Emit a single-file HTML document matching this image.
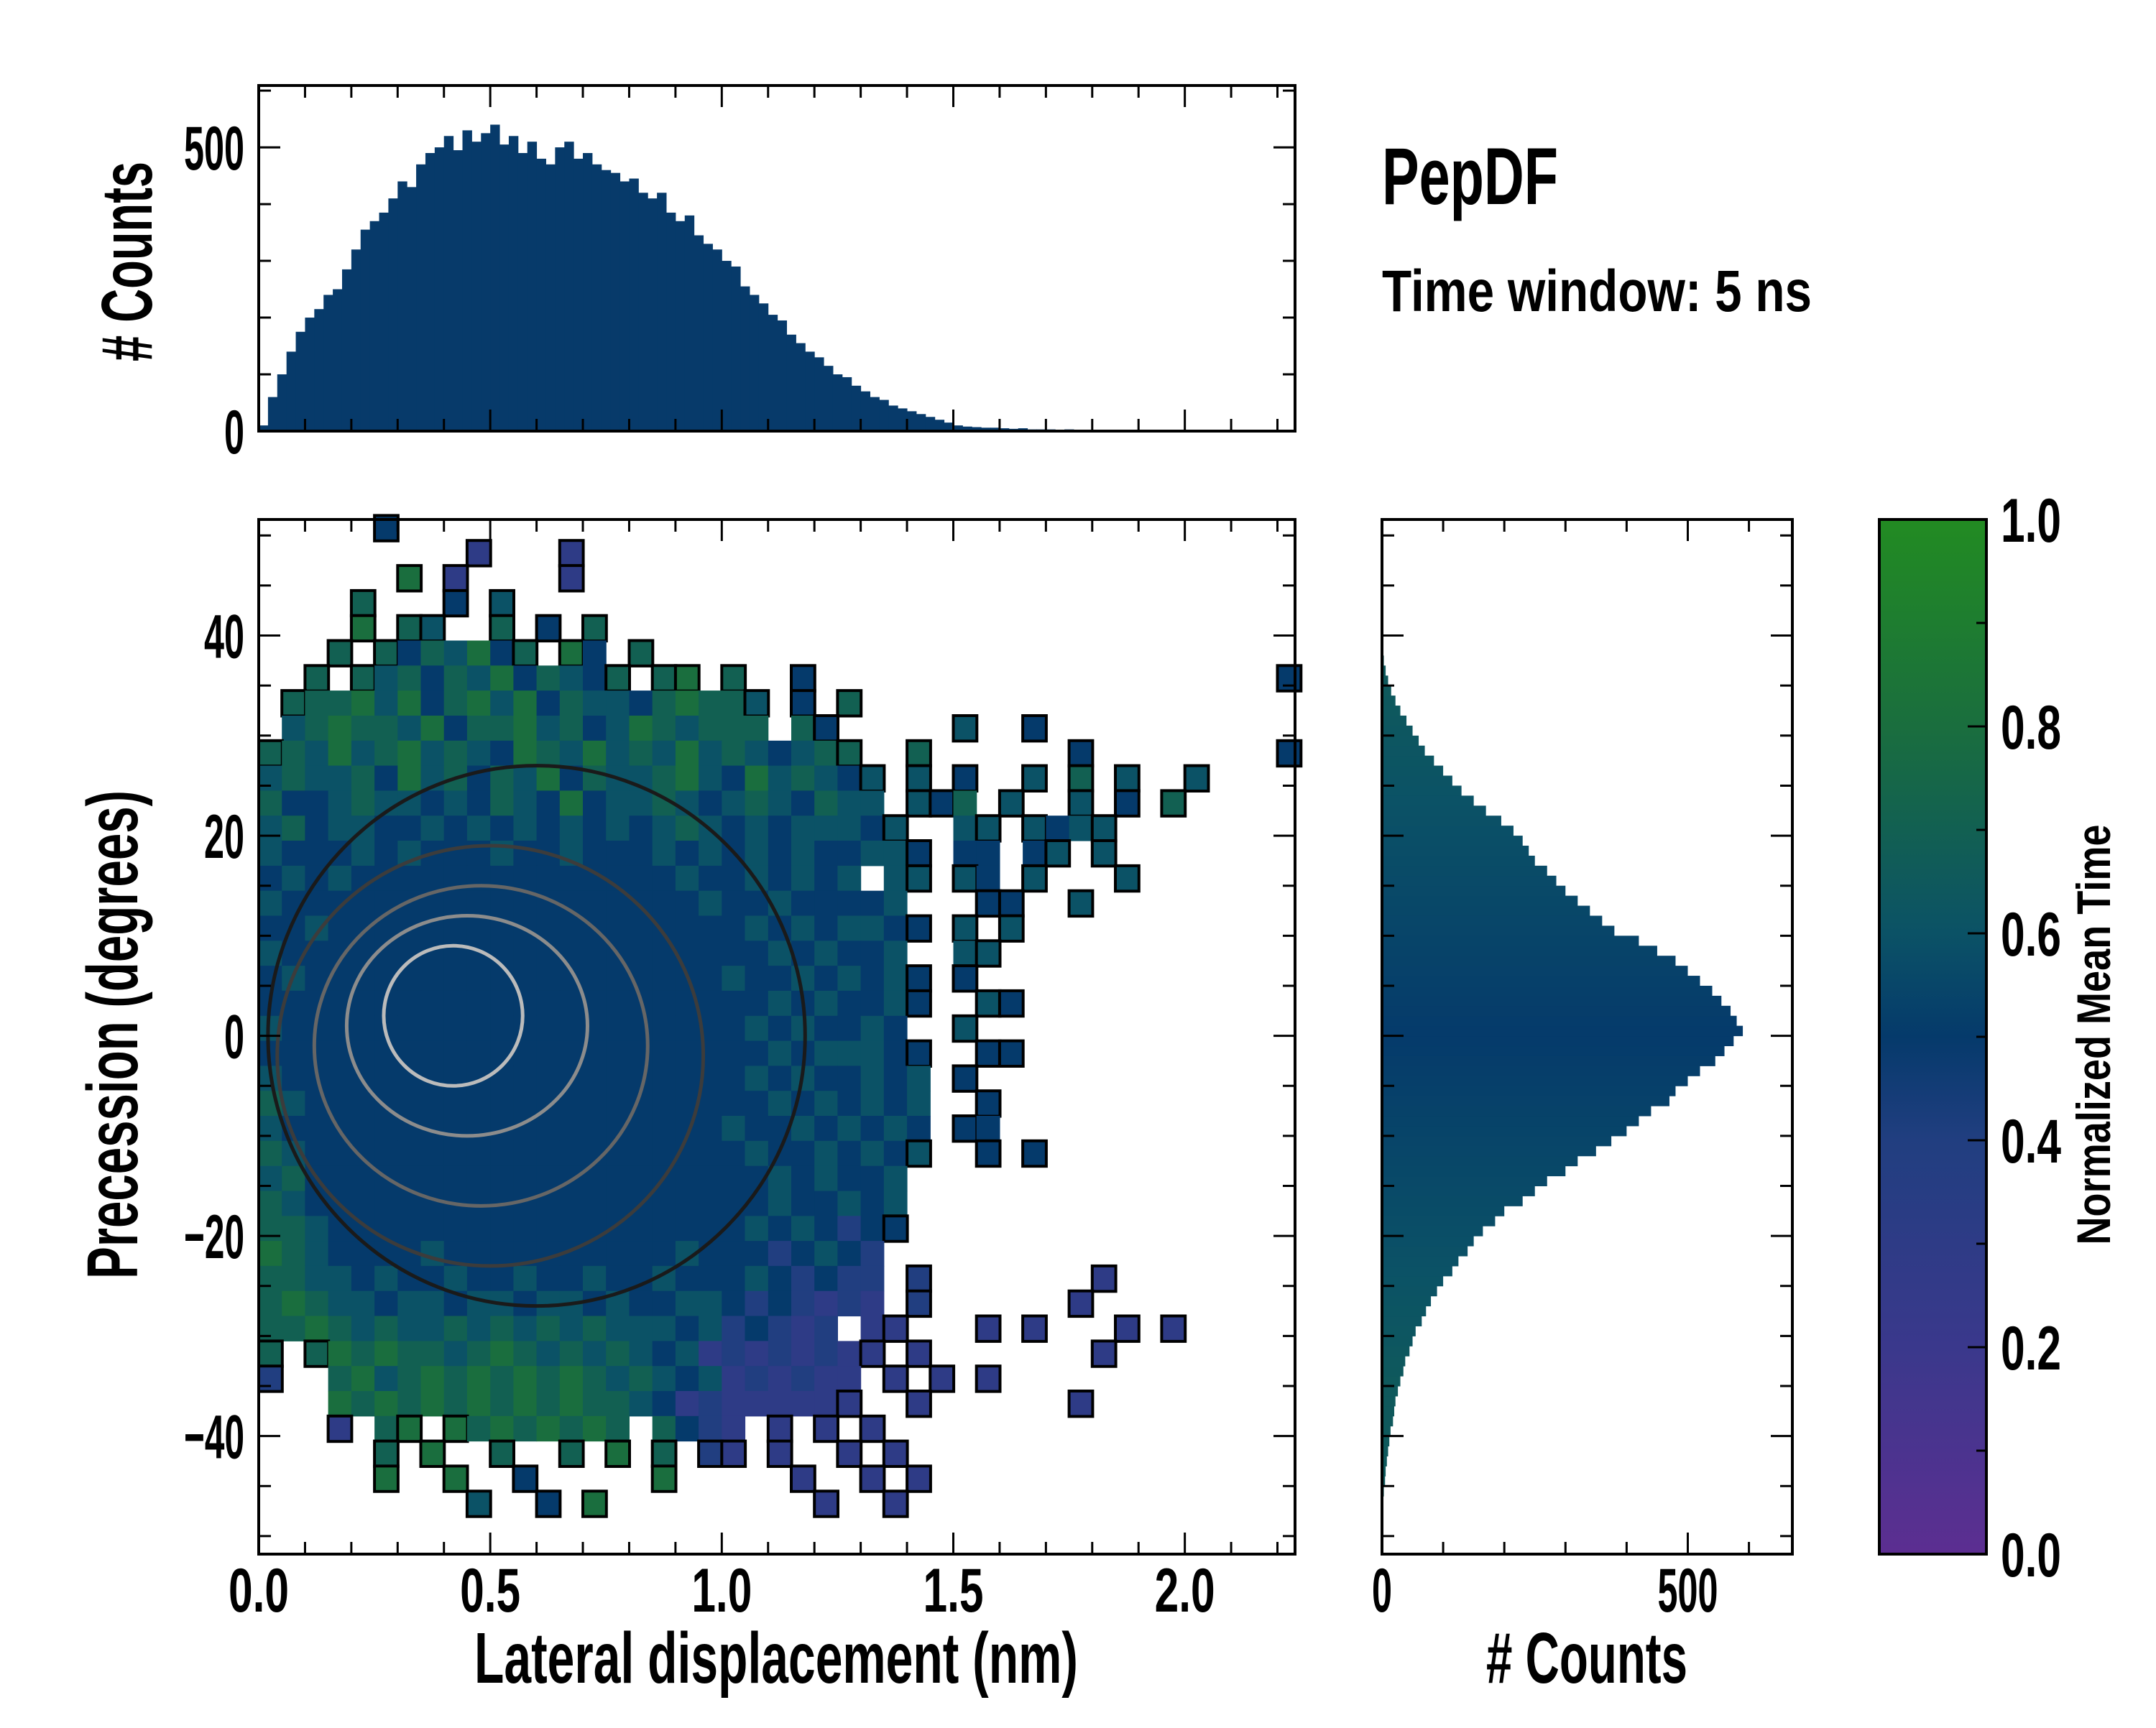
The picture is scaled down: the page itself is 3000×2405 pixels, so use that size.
<!DOCTYPE html>
<html><head><meta charset="utf-8"><style>
html,body{margin:0;padding:0;background:#fff;}
svg text{font-family:"Liberation Sans Narrow","Liberation Sans",sans-serif;font-weight:bold;fill:#000;}
</style></head><body>
<svg id="fig" xmlns="http://www.w3.org/2000/svg" width="3000" height="2400" viewBox="0 0 3000 2400">
<rect x="0" y="0" width="3000" height="2400" fill="#fff"/>
<g id="heat"></g>
<g id="contours"></g>
<g id="tophist"></g>
<g id="sidehist"></g>
<g id="cbar"></g>
<g id="axes"></g>
<text x="1923" y="284" font-size="112" textLength="245" lengthAdjust="spacingAndGlyphs">PepDF</text>
<text x="1923" y="433" font-size="82" textLength="598" lengthAdjust="spacingAndGlyphs">Time window: 5 ns</text>
<text x="1080" y="2342" font-size="100" text-anchor="middle" textLength="840" lengthAdjust="spacingAndGlyphs">Lateral displacement (nm)</text>
<text x="2208" y="2342" font-size="100" text-anchor="middle" textLength="280" lengthAdjust="spacingAndGlyphs"># Counts</text>
<text transform="translate(191,1440) rotate(-90)" x="0" y="0" font-size="100" text-anchor="middle" textLength="680" lengthAdjust="spacingAndGlyphs">Precession (degrees)</text>
<text transform="translate(211,364) rotate(-90)" x="0" y="0" font-size="100" text-anchor="middle" textLength="278" lengthAdjust="spacingAndGlyphs"># Counts</text>
<text transform="translate(2936,1440) rotate(-90)" x="0" y="0" font-size="66" text-anchor="middle" textLength="585" lengthAdjust="spacingAndGlyphs">Normalized Mean Time</text>
</svg>
<script>
// ---- data ----
const topHistStart = 0, topHistBin = 0.02;
const topHistCounts = [10,60,100,140,175, 200,215,240,250,285, 320,355,370,385,410, 440,430,470,490,500,
 520,495,530,510,525, 540,505,520,490,510, 480,470,500,510,480, 490,470,460,455,440,
 445,420,410,420,385, 370,380,345,330,320, 300,290,255,240,225, 205,195,170,155,140,
 130,115,100,95,80, 70,60,55,45,40, 35,30,25,20,15, 10,8,7,6,6,
 5,4,5,3,3, 3,2,3,2,2, 2,1,2,1,1, 1,1,0,0,0, 0,0,0,0,0,0,0,0,0,0,0,0];
const sideHistStart = -50, sideHistBin = 1;
const sideHistCounts = [0,0,0,2,3,5,6,8,10,12, 14,18,20,22,26,30,35,38,45,50,
 55,65,72,80,90,100,115,125,140,150, 165,185,200,230,250,270,300,320,350,375,
 400,420,440,470,480,500,520,545,560,575, 590,580,570,555,540,520,500,480,450,420,
 380,360,340,320,300,285,270,250,240,230, 215,195,170,150,130,115,100,85,70,60,
 50,40,30,22,15,10,6,3,1,0, 0,0,0,0,0,0,0,0,0,0];
const heatX0 = 0, heatDX = 0.05, heatY0 = 52, heatDY = 2.5;
const heatRows = [
".....|5....|.....|.....|.....|.....|.....|.....|.....",
".....|....3|...3.|.....|.....|.....|.....|.....|.....",
".....|.8.3.|...3.|.....|.....|.....|.....|.....|.....",
"....7|...5.|6....|.....|.....|.....|.....|.....|.....",
"....8|.76..|7.5.7|.....|.....|.....|.....|.....|.....",
"...7.|75768|57.85|.7...|.....|.....|.....|.....|.....",
"..7.7|67576|85765|7.78.|7..5.|.....|.....|.....|....5",
".7778|68578|68576|65787|76.5.|7....|.....|.....|.....",
".6787|76857|78675|68767|77.75|.....|6..5.|.....|.....",
"77686|78676|58768|67686|76567|7..7.|.....|5....|....5",
"67667|58675|76857|66786|58676|56.6.|5..6.|7.6..|6....",
"75567|66565|76585|66765|67657|66.65|7.6..|6.5.7|.....",
"67566|55656|56565|65676|56566|656..|66.65|66...|.....",
"65556|56555|65565|55656|56565|5665.|55.56|.6...|.....",
"56565|55555|55555|55565|56565|6.66.|65.6.|..6..|.....",
"65555|55555|55555|55556|55655|556..|.55..|6....|.....",
"55655|55555|55555|55555|56565|6655.|6.6..|.....|.....",
"65555|55555|55555|55555|55656|556..|66...|.....|.....",
"56555|55555|55555|55555|65565|6565.|5....|.....|.....",
"55555|55555|55555|55555|55656|5565.|.65..|.....|.....",
"65555|55555|55555|55555|56565|565..|6....|.....|.....",
"55555|55555|55555|55555|55656|6655.|.55..|.....|.....",
"65555|55555|55555|55555|56565|5656.|5....|.....|.....",
"76555|55555|55555|55555|55656|5656.|.5...|.....|.....",
"65555|55555|55555|55555|65565|6565.|55...|.....|.....",
"76555|55555|55555|55555|56556|5656.|.5.5.|.....|.....",
"67555|55555|55555|55555|55656|556..|.....|.....|.....",
"76555|55555|55555|55555|55655|656..|.....|.....|.....",
"77655|55555|55555|55555|56565|455..|.....|.....|.....",
"87655|55655|55555|55565|55456|54...|.....|.....|.....",
"77665|65565|56556|55655|56545|44.4.|.....|.3...|.....",
"78766|56656|65665|65566|54543|43.4.|.....|3....|.....",
"77876|76676|76767|66656|45434|.33..|.3.3.|..3.3|.....",
"7.787|87767|87676|76563|43434|33.3.|.....|.3...|.....",
"4..78|67878|78787|67656|34343|3.3.3|.3...|.....|.....",
"...87|87878|78787|76534|33333|3..3.|.....|3....|.....",
"...3.|78.87|87878|7.754|3.3.3|.3...|.....|.....|.....",
".....|7.8..|7..7.|8.7.4|3.3..|3.3..|.....|.....|.....",
".....|8..8.|.5...|..8..|...3.|.3.3.|.....|.....|.....",
".....|....6|..5.8|.....|....3|..3..|.....|.....|.....",
".....|.....|.....|.....|.....|.....|.....|.....|.....",
".....|.....|.....|.....|.....|.....|.....|.....|....."];
const cbarTicks = [0.0,0.2,0.4,0.6,0.8,1.0];
const mainXTicks = [0.0,0.5,1.0,1.5,2.0];
const mainYTicks = [-40,-20,0,20,40];
const topYTicks = [0,500];
const sideXTicks = [0,500];

// ---- layout ----
const M = {l:360, r:1802, t:723, b:2163};
const xMin=0, xMax=2.238, yMin=-51.8, yMax=51.6;
const TH = {t:119, b:600, max:609};
const SH = {l:1923, r:2494, max:671};
const CB = {l:2615, r:2764, t:723, b:2163};
const sx = v => M.l + (v-xMin)/(xMax-xMin)*(M.r-M.l);
const sy = v => M.b - (v-yMin)/(yMax-yMin)*(M.b-M.t);
const thy = c => TH.b - c/TH.max*(TH.b-TH.t);
const shx = c => SH.l + c/SH.max*(SH.r-SH.l);
const cby = v => CB.b - v*(CB.b-CB.t);

const stops=[[0,[92,46,145]],[0.2,[58,56,140]],[0.4,[33,62,128]],[0.5,[5,58,107]],[0.6,[11,82,102]],[0.8,[26,110,62]],[1,[34,139,34]]];
function cmap(v){v=Math.max(0,Math.min(1,v));for(let i=1;i<stops.length;i++){if(v<=stops[i][0]){const a=stops[i-1],b=stops[i];const t=(v-a[0])/(b[0]-a[0]);const c=a[1].map((x,k)=>Math.round(x+(b[1][k]-x)*t));return `rgb(${c[0]},${c[1]},${c[2]})`;}}return 'rgb(34,139,34)';}
const NS='http://www.w3.org/2000/svg';
function mk(tag,attrs,parent){const e=document.createElementNS(NS,tag);for(const k in attrs)e.setAttribute(k,attrs[k]);parent.appendChild(e);return e;}

// ---- heatmap ----
const heat=document.getElementById('heat');
const rows=heatRows.map(r=>r.replace(/\|/g,''));
const cell=(r,c)=>{const row=rows[r];if(!row)return null;const ch=row[c];return (ch&&ch>='0'&&ch<='9')?+ch:null;};
for(let r=0;r<rows.length;r++){for(let c=0;c<rows[r].length;c++){const d=cell(r,c);if(d===null)continue;
 const x0=heatX0+c*heatDX, y1=heatY0-r*heatDY;
 const px=sx(x0), py=sy(y1), w=sx(x0+heatDX)-px, h=sy(y1-heatDY)-py;
 const nb=[cell(r-1,c),cell(r+1,c),cell(r,c-1),cell(r,c+1)].filter(v=>v===null).length;
 const e=mk('rect',{x:px.toFixed(1),y:py.toFixed(1),width:(w+0.6).toFixed(1),height:(h+0.6).toFixed(1),fill:cmap(d/10)},heat);
 
 
 if(nb>=2){e.setAttribute('stroke','#000');e.setAttribute('stroke-width','4');}
}}
// ---- contours ----
const contourCx=[0.6,0.5,0.48,0.45,0.42], contourCy=[0,-2,-1,1,2];
const contourRx=[0.58,0.46,0.36,0.26,0.15], contourRy=[27,21,16,11,7];
const contourCol=['#1a1a1a','#3c3c3c','#666','#8c8c8c','#bbb'];
const cg=document.getElementById('contours');
for(let i=0;i<contourRx.length;i++){
 const e=mk('ellipse',{cx:sx(contourCx[i]),cy:sy(contourCy[i]),rx:sx(contourRx[i])-sx(0),ry:sy(0)-sy(contourRy[i]),fill:'none',stroke:contourCol[i],'stroke-width':5},cg);
 
 
}
// ---- top histogram ----
const th=document.getElementById('tophist');
topHistCounts.forEach((c,i)=>{if(c<=0)return;const x0=topHistStart+i*topHistBin;
 const e=mk('rect',{x:sx(x0),y:thy(c),width:sx(x0+topHistBin)-sx(x0)+0.5,height:TH.b-thy(c),fill:'#073a6a'},th);
 
 
});
// ---- side histogram ----
const shg=document.getElementById('sidehist');
sideHistCounts.forEach((c,i)=>{if(c<=0)return;const y0=sideHistStart+i*sideHistBin;
 const yc=y0+sideHistBin/2;const v=0.5+Math.min(Math.abs(yc)/35,1)*0.15;
 const e=mk('rect',{x:SH.l,y:sy(y0+sideHistBin),width:shx(c)-SH.l,height:sy(y0)-sy(y0+sideHistBin)+0.5,fill:cmap(v)},shg);
 
 
});
// ---- colorbar ----
const cb=document.getElementById('cbar');
const defs=mk('defs',{},cb);const lg=mk('linearGradient',{id:'cg',x1:0,y1:1,x2:0,y2:0},defs);
for(let i=0;i<=20;i++){mk('stop',{offset:i/20,'stop-color':cmap(i/20)},lg);}
const cbr=mk('rect',{x:CB.l,y:CB.t,width:CB.r-CB.l,height:CB.b-CB.t,fill:'url(#cg)',stroke:'#000','stroke-width':4},cb);


// ---- axes & ticks ----
const ax=document.getElementById('axes');
function frame(l,t,r,b,name){const e=mk('rect',{x:l,y:t,width:r-l,height:b-t,fill:'none',stroke:'#000','stroke-width':4},ax);
 
 }
function line(x1,y1,x2,y2,w){mk('line',{x1,y1,x2,y2,stroke:'#000','stroke-width':w},ax);}
function label(txt,x,y,anchor,name){const e=mk('text',{x,y,'font-size':86,'text-anchor':anchor,textLength:txt.length*28,lengthAdjust:'spacingAndGlyphs'},ax);e.textContent=txt;
 
 }
frame(M.l,M.t,M.r,M.b,'main-plot-frame');
frame(M.l,TH.t,M.r,TH.b,'top-hist-frame');
frame(SH.l,M.t,SH.r,M.b,'side-hist-frame');
const fmt1=v=>v.toFixed(1), fmtMinus=v=>(v<0?'\u2212'+Math.abs(v):String(v));
for(let k=0;k<=22;k++){const v=k*0.1;const X=sx(v);const major=k%5===0;const L=major?30:17;
 line(X,M.b,X,M.b-L,3);line(X,M.t,X,M.t+L,3);line(X,TH.b,X,TH.b-L,3);line(X,TH.t,X,TH.t+L,3);}
mainXTicks.forEach(v=>label(fmt1(v),sx(v),2243,'middle','x-tick-label'));
for(let v=-50;v<=50;v+=5){const Y=sy(v);const major=v%20===0;const L=major?30:17;
 line(M.l,Y,M.l+L,Y,3);line(M.r,Y,M.r-L,Y,3);line(SH.l,Y,SH.l+L,Y,3);line(SH.r,Y,SH.r-L,Y,3);}
mainYTicks.forEach(v=>label(fmtMinus(v),340,sy(v)+31,'end','y-tick-label'));
for(let c=0;c<=600;c+=100){const Y=thy(c);const L=c%500===0?30:17;line(M.l,Y,M.l+L,Y,3);line(M.r,Y,M.r-L,Y,3);}
topYTicks.forEach(v=>label(String(v),340,thy(v)+31,'end','top-y-tick-label'));
for(let c=0;c<=600;c+=100){const X=shx(c);const L=c%500===0?30:17;line(X,M.b,X,M.b-L,3);line(X,M.t,X,M.t+L,3);}
sideXTicks.forEach(v=>label(String(v),shx(v),2243,'middle','side-x-tick-label'));
for(let k=0;k<=10;k++){const v=k/10;const Y=cby(v);const L=k%2===0?26:14;line(CB.r,Y,CB.r-L,Y,3);}
cbarTicks.forEach(v=>label(fmt1(v),2784,cby(v)+31,'start','colorbar-tick-label'));
</script>
</body></html>
